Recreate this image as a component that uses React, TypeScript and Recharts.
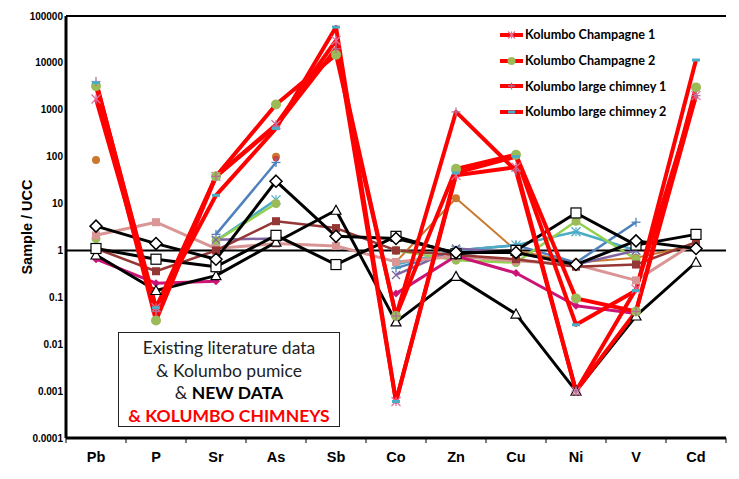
import React from "react";
import {
  LineChart,
  Line,
  XAxis,
  YAxis,
  ReferenceLine,
  Legend,
} from "recharts";

// element order along the x axis
const elements = ["Pb", "P", "Sr", "As", "Sb", "Co", "Zn", "Cu", "Ni", "V", "Cd"];
const yTicks = [0.0001, 0.001, 0.01, 0.1, 1, 10, 100, 1000, 10000, 100000];

// Kolumbo chimneys (new)
const champagne1 = [1700, 0.06, 38, 480, 30000, 0.0006, 40, 60, 0.001, 0.15, 2000];
const champagne2 = [3200, 0.032, 38, 1300, 15000, 0.04, 55, 110, 0.095, 0.05, 3000];
const largeChimney1 = [4000, 0.05, 38, 450, 20000, 0.04, 900, 50, 0.001, 0.05, 2000];
const largeChimney2 = [3800, 0.06, 15, 400, 58000, 0.0006, 45, 100, 0.026, 0.14, 11500];

// literature data, pumice, new data
const blackDiamond = [3.3, 1.4, 0.65, 30, 2.0, 1.8, 0.9, 0.9, 0.5, 1.6, 1.1];
const blackSquare = [1.1, 0.65, 0.45, 2.1, 0.5, 2.0, 0.85, 1.0, 6.3, 1.3, 2.2];
const blackTriangle = [0.8, 0.14, 0.29, 1.5, 7.2, 0.03, 0.28, 0.044, 0.001, 0.04, 0.56];
const salmon = [2.1, 4.0, 1.1, 1.4, 1.25, 0.57, 0.75, 0.6, 0.5, 0.23, 1.5];
const brown = [1.1, 0.36, 1.0, 4.2, 3.0, 1.0, 0.8, 0.65, 0.45, 0.5, 1.5];
const magenta = [0.65, 0.2, 0.22, null, null, 0.12, 0.76, 0.33, 0.066, 0.045, null];
const orange = [85, null, null, 100, null, 0.57, 13, 1.0, 0.55, 0.7, 1.3];
const redDot = [null, null, null, 90, null, null, null, null, null, null, null];
const steelBlue = [null, null, 2.2, 75, null, 0.42, 1.0, 1.3, 0.55, 4.0, null];
const teal = [null, null, 1.6, 12, null, 0.5, 1.0, 1.3, 2.5, 1.0, null];
const green = [1.8, null, 1.6, 10, null, 1.0, 0.62, 0.55, 4.2, 0.65, null];
const purple = [1.1, null, 1.7, 1.8, null, 0.3, 1.1, 0.9, 0.5, 1.0, null];

const RED = "#FF0000";

type Shape =
  | "square"
  | "circle"
  | "diamond"
  | "openSquare"
  | "openDiamond"
  | "openTriangle"
  | "x"
  | "plus"
  | "asterisk"
  | "dash";

type Series = {
  key: string;
  name: string;
  values: (number | null)[];
  color: string;
  width: number;
  shape: Shape;
  markColor: string;
  size: number;
  legend?: boolean;
};

const series: Series[] = [
  { key: "orange", name: "orange", values: orange, color: "#C9782E", width: 2, shape: "circle", markColor: "#C9782E", size: 8 },
  { key: "redDot", name: "redDot", values: redDot, color: "#C0504D", width: 2, shape: "circle", markColor: "#D23C3C", size: 6 },
  { key: "steelBlue", name: "steelBlue", values: steelBlue, color: "#4F81BD", width: 2.5, shape: "plus", markColor: "#4F81BD", size: 9 },
  { key: "teal", name: "teal", values: teal, color: "#4BACC6", width: 2.5, shape: "asterisk", markColor: "#4BACC6", size: 9 },
  { key: "green", name: "green", values: green, color: "#92D050", width: 2.5, shape: "circle", markColor: "#9BBB59", size: 9 },
  { key: "purple", name: "purple", values: purple, color: "#8064A2", width: 2.5, shape: "x", markColor: "#8064A2", size: 8 },
  { key: "salmon", name: "salmon", values: salmon, color: "#D99694", width: 3, shape: "square", markColor: "#D99694", size: 8 },
  { key: "brown", name: "brown", values: brown, color: "#953735", width: 2.5, shape: "square", markColor: "#953735", size: 8 },
  { key: "magenta", name: "magenta", values: magenta, color: "#CC1477", width: 3, shape: "diamond", markColor: "#CC1477", size: 8 },
  { key: "blackTriangle", name: "blackTriangle", values: blackTriangle, color: "#000000", width: 3, shape: "openTriangle", markColor: "#000000", size: 10 },
  { key: "blackSquare", name: "blackSquare", values: blackSquare, color: "#000000", width: 3, shape: "openSquare", markColor: "#000000", size: 10 },
  { key: "blackDiamond", name: "blackDiamond", values: blackDiamond, color: "#000000", width: 3, shape: "openDiamond", markColor: "#000000", size: 12 },
  { key: "champagne1", name: "Kolumbo Champagne 1", values: champagne1, color: RED, width: 4, shape: "asterisk", markColor: "#E46C9A", size: 9, legend: true },
  { key: "champagne2", name: "Kolumbo Champagne 2", values: champagne2, color: RED, width: 4, shape: "circle", markColor: "#9BBB59", size: 10, legend: true },
  { key: "largeChimney1", name: "Kolumbo large chimney 1", values: largeChimney1, color: RED, width: 4, shape: "plus", markColor: "#B0709A", size: 9, legend: true },
  { key: "largeChimney2", name: "Kolumbo large chimney 2", values: largeChimney2, color: RED, width: 4, shape: "dash", markColor: "#4BACC6", size: 8, legend: true },
];

const rows = elements.map((el, i) => {
  const row: Record<string, any> = { el };
  series.forEach((s) => {
    row[s.key] = s.values[i];
  });
  return row;
});

function Marker({ cx, cy, shape, color, size }: any) {
  if (cx == null || cy == null || isNaN(cx) || isNaN(cy)) return null;
  const h = size / 2;
  switch (shape as Shape) {
    case "square":
      return <rect x={cx - h} y={cy - h} width={size} height={size} fill={color} />;
    case "circle":
      return <circle cx={cx} cy={cy} r={h} fill={color} />;
    case "diamond":
      return (
        <polygon
          points={`${cx},${cy - h} ${cx + h},${cy} ${cx},${cy + h} ${cx - h},${cy}`}
          fill={color}
        />
      );
    case "openSquare":
      return (
        <rect x={cx - h} y={cy - h} width={size} height={size} fill="#fff" stroke={color} strokeWidth={1.2} />
      );
    case "openDiamond":
      return (
        <polygon
          points={`${cx},${cy - h} ${cx + h},${cy} ${cx},${cy + h} ${cx - h},${cy}`}
          fill="#fff"
          stroke={color}
          strokeWidth={1.5}
        />
      );
    case "openTriangle":
      return (
        <polygon
          points={`${cx},${cy - h} ${cx + h},${cy + h * 0.8} ${cx - h},${cy + h * 0.8}`}
          fill="#fff"
          stroke={color}
          strokeWidth={1.2}
        />
      );
    case "x":
      return (
        <g stroke={color} strokeWidth={1.3}>
          <line x1={cx - h} y1={cy - h} x2={cx + h} y2={cy + h} />
          <line x1={cx - h} y1={cy + h} x2={cx + h} y2={cy - h} />
        </g>
      );
    case "plus":
      return (
        <g stroke={color} strokeWidth={1.3}>
          <line x1={cx - h} y1={cy} x2={cx + h} y2={cy} />
          <line x1={cx} y1={cy - h} x2={cx} y2={cy + h} />
        </g>
      );
    case "asterisk":
      return (
        <g stroke={color} strokeWidth={1.2}>
          <line x1={cx - h} y1={cy - h} x2={cx + h} y2={cy + h} />
          <line x1={cx - h} y1={cy + h} x2={cx + h} y2={cy - h} />
          <line x1={cx} y1={cy - h} x2={cx} y2={cy + h} />
        </g>
      );
    case "dash":
      return <rect x={cx - h} y={cy - 1.5} width={size} height={3} fill={color} />;
  }
  return null;
}

function dotFor(s: Series) {
  return (props: any) => (
    <Marker
      key={`${s.key}-${props.index}`}
      cx={props.cx}
      cy={props.cy}
      shape={s.shape}
      color={s.markColor}
      size={s.size}
    />
  );
}

function ElementTick({ x, y, payload }: any) {
  const last = payload.value === elements[elements.length - 1];
  return (
    <g>
      <line x1={x - 30} y1={y} x2={x - 30} y2={y + 5} stroke="#000" strokeWidth={1} />
      {last && <line x1={x + 30} y1={y} x2={x + 30} y2={y + 5} stroke="#000" strokeWidth={1} />}
      <text
        x={x}
        y={y + 24}
        textAnchor="middle"
        fontFamily="'Liberation Sans', Arial, sans-serif"
        fontWeight="bold"
        fontSize={14.5}
        fill="#000"
      >
        {payload.value}
      </text>
    </g>
  );
}

function YLabel({ viewBox }: any) {
  const cy = viewBox.y + viewBox.height / 2;
  return (
    <text
      x={32}
      y={cy}
      transform={`rotate(-90, 32, ${cy})`}
      textAnchor="middle"
      fontFamily="'Liberation Sans', Arial, sans-serif"
      fontWeight="bold"
      fontSize={14.5}
      fill="#000"
    >
      Sample / UCC
    </text>
  );
}

function LegendBox() {
  const items = series.filter((s) => s.legend);
  return (
    <div style={{ fontFamily: "Lato, 'Open Sans', sans-serif", fontWeight: 700, fontSize: 12.6 }}>
      {items.map((s) => (
        <div key={s.key} style={{ display: "flex", alignItems: "center", height: 25.7 }}>
          <svg width={26} height={12} style={{ marginRight: 0 }}>
            <line x1={1} y1={6} x2={24} y2={6} stroke={s.color} strokeWidth={4} />
            <Marker cx={12.5} cy={6} shape={s.shape} color={s.markColor} size={s.shape === "circle" ? 8 : 7} />
          </svg>
          <span style={{ color: "#000", whiteSpace: "nowrap" }}>{s.name}</span>
        </div>
      ))}
    </div>
  );
}

export default function App() {
  return (
    <div
      style={{
        position: "absolute",
        left: 0,
        top: 0,
        width: 739,
        height: 479,
        background: "#fff",
        overflow: "hidden",
      }}
    >
      <LineChart
        width={739}
        height={479}
        data={rows}
        margin={{ top: 16, right: 13, bottom: 0, left: 0 }}
      >
        <XAxis
          dataKey="el"
          padding={{ left: 30, right: 30 }}
          interval={0}
          height={41}
          tickLine={false}
          tickSize={0}
          tickMargin={0}
          axisLine={{ stroke: "#000", strokeWidth: 3 }}
          tick={<ElementTick />}
        />
        <YAxis
          scale="log"
          type="number"
          domain={[0.0001, 100000]}
          ticks={yTicks}
          allowDataOverflow
          interval={0}
          width={66}
          tickLine={false}
          tickSize={1}
          tickMargin={2}
          tickFormatter={(v: number) => String(v)}
          tick={{
            fill: "#000",
            fontSize: 10,
            fontWeight: "bold",
            fontFamily: "'Liberation Sans', Arial, sans-serif",
          }}
          axisLine={{ stroke: "#000", strokeWidth: 3 }}
          label={<YLabel />}
        />
        <YAxis
          yAxisId="frame"
          orientation="right"
          width={0}
          tick={false}
          tickLine={false}
          axisLine={{ stroke: "#000", strokeWidth: 2 }}
        />
        <ReferenceLine y={100000} stroke="#000" strokeWidth={2} />
        <ReferenceLine y={1} stroke="#000" strokeWidth={2} />
        {series.map((s) => (
          <Line
            key={s.key}
            type="linear"
            dataKey={s.key}
            name={s.name}
            stroke={s.color}
            strokeWidth={s.width}
            strokeLinejoin="round"
            dot={dotFor(s)}
            activeDot={false}
            connectNulls={false}
            legendType="none"
            isAnimationActive={false}
          />
        ))}
        <Legend
          layout="vertical"
          align="center"
          verticalAlign="middle"
          content={<LegendBox />}
          wrapperStyle={{ position: "absolute", left: 499, top: 22, width: 210 }}
        />
      </LineChart>
      <div
        style={{
          position: "absolute",
          left: 118,
          top: 332,
          width: 222,
          height: 95,
          boxSizing: "border-box",
          border: "1px solid #222",
          background: "#fff",
          textAlign: "center",
          fontFamily: "Lato, 'Open Sans', sans-serif",
          fontSize: 17.5,
          lineHeight: "22.5px",
          paddingTop: 4,
          color: "#222",
        }}
      >
        <div>Existing literature data</div>
        <div>&amp; Kolumbo pumice</div>
        <div>
          &amp; <b style={{ color: "#000" }}>NEW DATA</b>
        </div>
        <div style={{ color: RED, fontWeight: 700 }}>&amp; KOLUMBO CHIMNEYS</div>
      </div>
    </div>
  );
}
